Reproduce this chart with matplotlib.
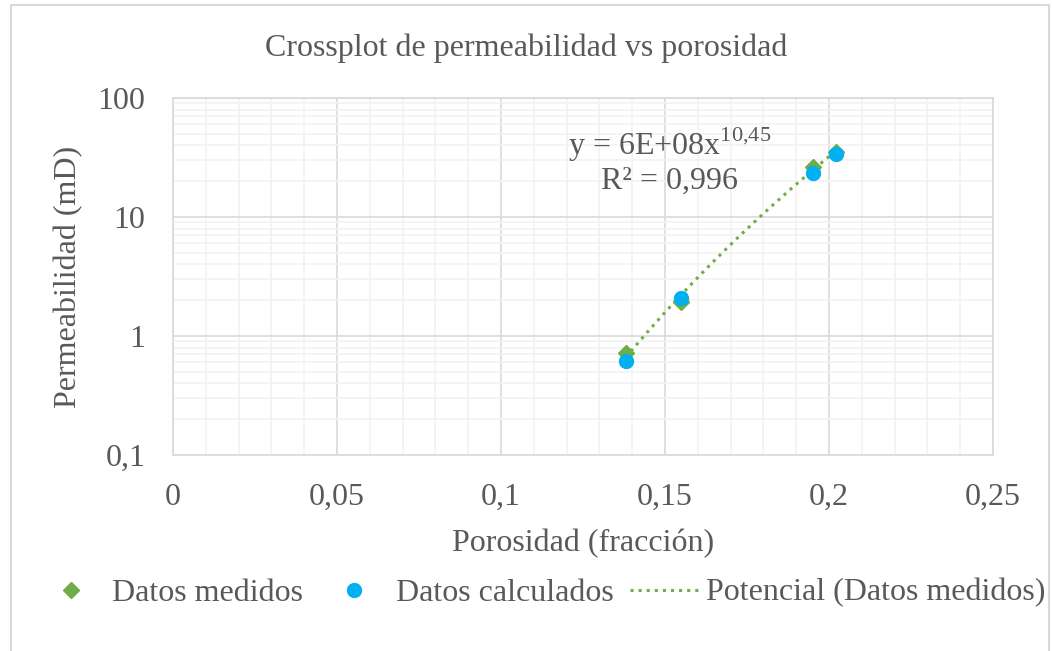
import matplotlib.pyplot as plt
import numpy as np
from matplotlib.patches import Rectangle
from matplotlib.ticker import FixedLocator, FuncFormatter, LogLocator, NullFormatter

# --- Data ---
poro_medido = [0.138, 0.155, 0.195, 0.202]
perm_medido = [0.72, 1.95, 26.5, 35.0]
poro_calc = [0.138, 0.155, 0.195, 0.202]
perm_calc = [0.615, 2.09, 23.4, 34.0]

x_ticks = [0, 0.05, 0.1, 0.15, 0.2, 0.25]
y_ticks = [0.1, 1, 10, 100]

GRIS = "#595959"
VERDE = "#70AD47"
AZUL = "#00B0F0"
FS = 23

plt.rcParams["font.family"] = ["Liberation Serif", "DejaVu Serif"]
plt.rcParams["mathtext.fontset"] = "custom"
plt.rcParams["mathtext.rm"] = "Liberation Serif"

# --- Ajuste potencial ---
b, ln_a = np.polyfit(np.log(poro_medido), np.log(perm_medido), 1)
a = np.exp(ln_a)
x_fit = np.linspace(min(poro_medido), max(poro_medido), 100)
y_fit = a * x_fit ** b

# --- Plot ---
fig = plt.figure(figsize=(10.52, 6.51), dpi=100)
ax = fig.add_axes([0.1645, 0.301, 0.7795, 0.5485])

ax.plot(x_fit, y_fit, color=VERDE, linestyle=":", linewidth=2.2, zorder=3,
        label="Potencial (Datos medidos)")
ax.plot(poro_medido, perm_medido, linestyle="none", marker="D", markersize=8.5,
        color=VERDE, zorder=4, label="Datos medidos")
ax.plot(poro_calc, perm_calc, linestyle="none", marker="o", markersize=10,
        color=AZUL, zorder=5, label="Datos calculados")

ax.set_yscale("log")
ax.set_xlim(0, 0.25)
ax.set_ylim(0.1, 100)
ax.xaxis.set_major_locator(FixedLocator(x_ticks))
ax.xaxis.set_minor_locator(FixedLocator(np.arange(0, 0.2501, 0.01)))
ax.yaxis.set_major_locator(FixedLocator(y_ticks))
ax.yaxis.set_minor_locator(LogLocator(base=10, subs=np.arange(2, 10)))
ax.yaxis.set_minor_formatter(NullFormatter())

fmt = lambda v, p: ("%g" % v).replace(".", ",")
ax.xaxis.set_major_formatter(FuncFormatter(fmt))
ax.yaxis.set_major_formatter(FuncFormatter(fmt))

ax.grid(which="major", color="#D9D9D9", linewidth=1.2)
ax.grid(which="minor", color="#F2F2F2", linewidth=1.2)
ax.set_axisbelow(True)
for s in ax.spines.values():
    s.set_color("#D9D9D9")
    s.set_linewidth(1.2)

ax.tick_params(which="both", length=0, labelsize=FS, labelcolor=GRIS)
ax.tick_params(axis="x", pad=20)
ax.tick_params(axis="y", pad=20)

ax.set_xlabel("Porosidad (fracción)", fontsize=FS, color=GRIS, labelpad=12)
ax.set_ylabel("Permeabilidad (mD)", fontsize=FS, color=GRIS, labelpad=10)
fig.suptitle("Crossplot de permeabilidad vs porosidad", fontsize=FS,
             color=GRIS, y=0.948)

# Ecuación de la línea de tendencia
ax.text(0.1515, 40, r"y = 6E+08x$^{\mathregular{10{,}45}}$", fontsize=FS,
        color=GRIS, ha="center", va="center")
ax.text(0.1515, 20, "R² = 0,996", fontsize=FS, color=GRIS,
        ha="center", va="center")

# Leyenda
handles, labels = ax.get_legend_handles_labels()
orden = [1, 2, 0]
fig.legend([handles[i] for i in orden], [labels[i] for i in orden],
           loc="center", bbox_to_anchor=(0.514, 1 - 593 / 651), ncol=3,
           frameon=False, fontsize=FS, labelcolor=GRIS, handlelength=2.2,
           handletextpad=0.2, columnspacing=0.5)

# Borde del área del gráfico
fig.patches.append(Rectangle((11 / 1052, -0.05), 1038 / 1052, 1.05 - 5 / 651,
                             transform=fig.transFigure, fill=False,
                             edgecolor="#D9D9D9", linewidth=1.5))

plt.savefig("out.png", dpi=100)
plt.close()
